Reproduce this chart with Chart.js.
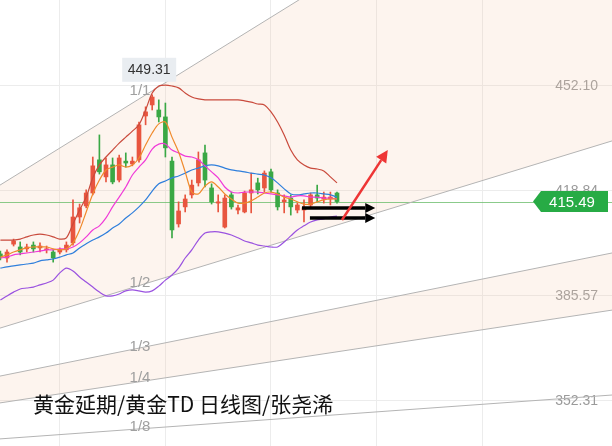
<!DOCTYPE html>
<html>
<head>
<meta charset="utf-8">
<script src="https://cdn.jsdelivr.net/npm/chart.js@4.4.0/dist/chart.umd.min.js"></script>
<style>
  html, body { margin: 0; padding: 0; background: #fff; }
  #chart { display: block; }
</style>
</head>
<body>
<canvas id="chart" width="612" height="446"></canvas>
<script>
// daily candles, oldest first (first one is cut by the left edge)
const open = [398.9, 397.6, 402.0, 401.1, 400.5, 401.7, 400.8, 400.2, 399.5, 399.5, 400.2, 402.4, 410.6, 414.1, 418.2, 428.7, 423.3, 427.1, 422.3, 428.3, 427.4, 428.7, 442.6, 446.1, 444.5, 442.3, 428.3, 408.4, 413.8, 417.6, 421.4, 430.9, 419.8, 415.0, 407.4, 417.6, 412.8, 412.2, 418.2, 421.4, 419.8, 424.9, 418.2, 415.4, 416.6, 412.8, 412.8, 414.4, 417.6, 416.3, 416.3, 418.2];
const high = [399.8, 400.2, 403.6, 402.7, 402.0, 402.7, 402.4, 401.4, 400.2, 400.8, 402.7, 416.0, 414.7, 419.2, 429.6, 436.6, 429.3, 429.3, 430.2, 430.9, 429.6, 440.7, 445.5, 449.31, 447.7, 446.7, 429.6, 415.4, 417.6, 422.3, 431.2, 433.4, 421.1, 417.6, 417.6, 418.5, 414.4, 418.8, 424.5, 422.9, 425.2, 425.8, 419.2, 417.6, 417.6, 415.0, 416.0, 418.2, 420.7, 418.5, 418.5, 418.5];
const low = [397.0, 396.3, 401.4, 398.6, 399.5, 399.5, 399.5, 399.2, 396.3, 398.9, 399.5, 401.7, 408.7, 413.5, 417.6, 424.2, 421.7, 421.1, 421.7, 426.4, 426.8, 428.0, 439.8, 444.5, 440.7, 429.6, 404.0, 407.4, 412.2, 416.6, 420.4, 420.1, 414.7, 412.2, 407.1, 413.1, 411.6, 411.9, 411.9, 417.9, 418.5, 418.5, 412.8, 411.9, 411.2, 411.9, 409.0, 413.8, 415.4, 415.0, 414.4, 415.0];
const close = [397.9, 399.5, 403.0, 399.5, 401.1, 400.5, 401.4, 400.5, 397.6, 400.2, 401.7, 410.6, 413.5, 418.2, 426.8, 424.9, 427.1, 421.7, 429.3, 427.7, 428.3, 439.8, 443.9, 448.6, 442.3, 432.5, 406.5, 412.5, 416.3, 420.7, 428.7, 422.3, 415.4, 415.4, 416.6, 413.8, 413.5, 418.2, 419.2, 419.2, 424.5, 419.2, 413.8, 416.0, 413.8, 414.4, 413.5, 417.6, 416.6, 416.9, 416.9, 415.49];

// indicator lines
const bandUpper = [403.3, 403.3, 403.3, 403.6, 404.3, 404.9, 405.2, 404.9, 404.3, 403.6, 404.0, 408.4, 412.8, 416.9, 423.0, 427.1, 429.6, 431.8, 434.0, 435.9, 437.8, 439.8, 444.5, 449.9, 452.1, 452.4, 452.1, 451.5, 449.9, 448.6, 448.0, 447.7, 447.7, 447.7, 447.7, 447.7, 447.7, 447.4, 447.0, 446.4, 446.1, 443.9, 440.7, 436.6, 431.8, 428.7, 427.1, 426.1, 425.8, 425.2, 423.3, 421.4];
const ma5 = [397.9, 398.6, 399.5, 400.2, 400.8, 401.1, 401.1, 401.1, 400.5, 400.2, 400.5, 402.4, 406.5, 412.2, 417.9, 422.3, 425.5, 426.4, 427.1, 426.4, 427.1, 429.3, 433.4, 437.2, 440.1, 440.7, 435.9, 431.2, 424.9, 418.5, 417.9, 420.4, 421.7, 420.1, 417.9, 416.3, 415.0, 415.0, 415.7, 416.9, 418.2, 418.5, 417.9, 416.9, 416.3, 415.4, 414.7, 414.7, 415.4, 416.0, 416.3, 416.3];
const ma10 = [397.6, 397.9, 398.6, 398.9, 399.2, 399.5, 399.8, 400.2, 400.2, 400.5, 400.5, 401.1, 402.4, 404.3, 406.5, 407.8, 410.3, 413.8, 416.9, 420.1, 423.9, 426.4, 428.7, 432.1, 433.7, 433.7, 431.8, 430.9, 429.9, 429.6, 428.7, 426.8, 424.9, 423.0, 420.1, 418.5, 418.2, 418.5, 418.5, 418.5, 418.2, 417.9, 417.6, 417.3, 416.9, 417.3, 417.3, 416.9, 416.9, 416.6, 416.6, 416.3];
const ma20 = [394.4, 394.8, 395.1, 395.4, 395.7, 396.0, 396.7, 397.0, 397.3, 397.9, 398.6, 399.2, 400.8, 402.1, 403.3, 404.3, 405.5, 407.1, 408.4, 410.3, 411.9, 413.8, 416.0, 418.8, 421.1, 422.0, 423.0, 423.6, 424.5, 425.5, 426.1, 426.8, 427.1, 426.8, 426.1, 425.5, 425.2, 424.9, 424.5, 424.2, 423.9, 423.0, 421.4, 419.5, 417.9, 417.6, 417.9, 418.2, 418.2, 417.9, 417.6, 416.9];
const bandLower = [384.3, 385.6, 386.8, 387.8, 388.1, 388.4, 389.1, 389.7, 390.6, 392.9, 394.4, 393.5, 391.6, 390.0, 388.4, 386.8, 385.6, 385.6, 386.2, 387.2, 387.5, 387.2, 386.8, 387.2, 388.7, 390.6, 392.2, 394.4, 397.6, 400.2, 403.3, 405.5, 405.9, 405.9, 405.5, 404.9, 404.0, 403.0, 402.4, 401.7, 401.4, 401.1, 401.1, 402.7, 404.6, 406.5, 407.8, 409.0, 409.7, 410.0, 410.6, 410.9];

// gann fan: value at left and right edge of the chart
const fanNames = ['1/1', '1/2', '1/3', '1/4', '1/8'];
const fanLeft = [420.7, 375.4, 360.2, 351.7, 340.3];
const fanRight = [540.8, 434.7, 399.2, 381.1, 354.2];

const yTicks = [352.31, 385.57, 418.84, 452.10];
const title = '黄金延期/黄金TD 日线图/张尧浠';

const xMin = -0.06, xMax = 92.67;
const yMin = 338.05, yMax = 479.34;

const upColor = '#e8553f';
const downColor = '#3aa845';
const candleColors = close.map((c, i) => c >= open[i] ? upColor : downColor);
const xs = open.map((_, i) => i);

const mkLine = (label, values, color) => ({
    type: 'line',
    label: label,
    data: values.map((v, i) => ({ x: i, y: v })),
    borderColor: color,
    borderWidth: 1.2,
    pointRadius: 0,
    tension: 0.3,
    fill: false,
    order: 0
});

const fanSets = fanNames.map((name, k) => ({
    type: 'line',
    label: name,
    data: [{ x: xMin, y: fanLeft[k] }, { x: xMax, y: fanRight[k] }],
    borderColor: '#b4b4b4',
    borderWidth: 1,
    pointRadius: 0,
    fill: (k === 0 || k === 2) ? '+1' : false,
    backgroundColor: 'rgba(246, 200, 170, 0.2)',
    order: 20
}));

const drawArrow = (ctx, x1, y1, x2, y2, color, width, headLen, headHalf) => {
    const a = Math.atan2(y2 - y1, x2 - x1);
    const bx = x2 - headLen * Math.cos(a), by = y2 - headLen * Math.sin(a);
    ctx.save();
    ctx.strokeStyle = color;
    ctx.fillStyle = color;
    ctx.lineWidth = width;
    ctx.beginPath();
    ctx.moveTo(x1, y1);
    ctx.lineTo(bx, by);
    ctx.stroke();
    ctx.beginPath();
    ctx.moveTo(x2, y2);
    ctx.lineTo(bx + headHalf * Math.sin(a), by - headHalf * Math.cos(a));
    ctx.lineTo(bx - headHalf * Math.sin(a), by + headHalf * Math.cos(a));
    ctx.closePath();
    ctx.fill();
    ctx.restore();
};

// let the plot fill the whole canvas, labels sit inside
const noRoom = s => {
    if (s.isHorizontal()) s.height = 0; else s.width = 0;
    s.paddingTop = 0; s.paddingBottom = 0; s.paddingLeft = 0; s.paddingRight = 0;
};

const overlay = {
    id: 'overlay',
    beforeDatasetsDraw(chart) {
        const { ctx, chartArea, scales: { y } } = chart;
        const py = Math.round(y.getPixelForValue(close[close.length - 1])) + 0.5;
        ctx.save();
        ctx.strokeStyle = 'rgba(110, 190, 110, 0.8)';
        ctx.lineWidth = 1;
        ctx.beginPath();
        ctx.moveTo(chartArea.left, py);
        ctx.lineTo(chartArea.right, py);
        ctx.stroke();
        ctx.restore();
    },
    afterDatasetsDraw(chart) {
        const { ctx, scales: { x, y } } = chart;
        ctx.save();
        // fan labels
        const labelDy = [-8, -2, -1, -4, -2];
        ctx.font = '15px "Liberation Sans", Arial, sans-serif';
        ctx.fillStyle = '#a0a0a0';
        ctx.textAlign = 'center';
        ctx.textBaseline = 'middle';
        const xv = x.getValueForPixel(140);
        fanNames.forEach((name, k) => {
            const v = fanLeft[k] + (fanRight[k] - fanLeft[k]) * (xv - xMin) / (xMax - xMin);
            ctx.fillText(name, 140, y.getPixelForValue(v) + labelDy[k]);
        });

        // highest high marker
        const top = high.indexOf(Math.max(...high));
        const hx = x.getPixelForValue(top) - 3;
        const hy = y.getPixelForValue(high[top]);
        ctx.fillStyle = '#e9edf1';
        ctx.fillRect(hx - 27, hy - 37, 54, 24);
        ctx.fillStyle = '#333';
        ctx.font = '14px "Liberation Sans", Arial, sans-serif';
        ctx.fillText(high[top].toFixed(2), hx, hy - 25);
        ctx.restore();

        // arrows
        drawArrow(ctx, x.getPixelForValue(45.7), y.getPixelForValue(413.45), x.getPixelForValue(56.8), y.getPixelForValue(413.45), '#000', 3.5, 10, 5);
        drawArrow(ctx, x.getPixelForValue(46.9), y.getPixelForValue(410.3), x.getPixelForValue(56.8), y.getPixelForValue(410.3), '#000', 3.5, 10, 5);
        drawArrow(ctx, x.getPixelForValue(51.76), y.getPixelForValue(409.65), x.getPixelForValue(58.7), y.getPixelForValue(431.8), '#ee3535', 2.5, 12, 6);
    },
    afterDraw(chart) {
        const { ctx, chartArea, scales: { y } } = chart;
        const last = close[close.length - 1];
        const py = y.getPixelForValue(last);
        const r = chartArea.right - 4;
        ctx.save();
        ctx.fillStyle = '#27ab45';
        ctx.beginPath();
        ctx.moveTo(533, py);
        ctx.lineTo(541, py - 10.5);
        ctx.lineTo(r, py - 10.5);
        ctx.lineTo(r, py + 10.5);
        ctx.lineTo(541, py + 10.5);
        ctx.closePath();
        ctx.fill();
        ctx.fillStyle = '#fff';
        ctx.font = '15px "Liberation Sans", Arial, sans-serif';
        ctx.textAlign = 'center';
        ctx.textBaseline = 'middle';
        ctx.fillText(last.toFixed(2), 572, py + 1);

        ctx.fillStyle = '#111';
        ctx.font = '21px "Noto Sans CJK SC", sans-serif';
        ctx.textAlign = 'left';
        ctx.fillText(title, 33, 404);
        ctx.restore();
    }
};

new Chart(document.getElementById('chart'), {
    type: 'bar',
    data: {
        datasets: [
            mkLine('MA5', ma5, '#f08a2c'),
            mkLine('MA10', ma10, '#f03ad8'),
            mkLine('MA20', ma20, '#2f7fdc'),
            mkLine('UP', bandUpper, '#c94a3c'),
            mkLine('DN', bandLower, '#9a52e0'),
            {
                type: 'bar',
                label: 'body',
                data: xs.map(i => ({ x: i, y: [open[i], close[i]] })),
                backgroundColor: candleColors,
                barThickness: 4,
                minBarLength: 1,
                grouped: false,
                order: 1
            },
            {
                type: 'bar',
                label: 'wick',
                data: xs.map(i => ({ x: i, y: [low[i], high[i]] })),
                backgroundColor: candleColors,
                barThickness: 1,
                grouped: false,
                order: 2
            },
            ...fanSets
        ]
    },
    options: {
        responsive: false,
        animation: false,
        layout: { padding: 0 },
        plugins: {
            legend: { display: false },
            tooltip: { enabled: false },
            filler: { drawTime: 'beforeDatasetsDraw' }
        },
        scales: {
            x: {
                type: 'linear',
                min: xMin,
                max: xMax,
                offset: false,
                afterBuildTicks: s => { s.ticks = [9, 25, 41, 57, 73].map(v => ({ value: v })); },
                afterFit: noRoom,
                ticks: { display: false },
                grid: { color: '#ececec', drawTicks: false, offset: false },
                border: { display: false }
            },
            y: {
                position: 'right',
                min: yMin,
                max: yMax,
                afterBuildTicks: s => { s.ticks = yTicks.map(v => ({ value: v })); },
                afterFit: noRoom,
                ticks: {
                    mirror: true,
                    padding: -14,
                    color: '#9a9a9a',
                    font: { size: 14, family: '"Liberation Sans", Arial, sans-serif' },
                    callback: v => v.toFixed(2)
                },
                grid: { color: '#ececec', drawTicks: false },
                border: { display: false }
            }
        }
    },
    plugins: [overlay]
});
</script>
</body>
</html>
